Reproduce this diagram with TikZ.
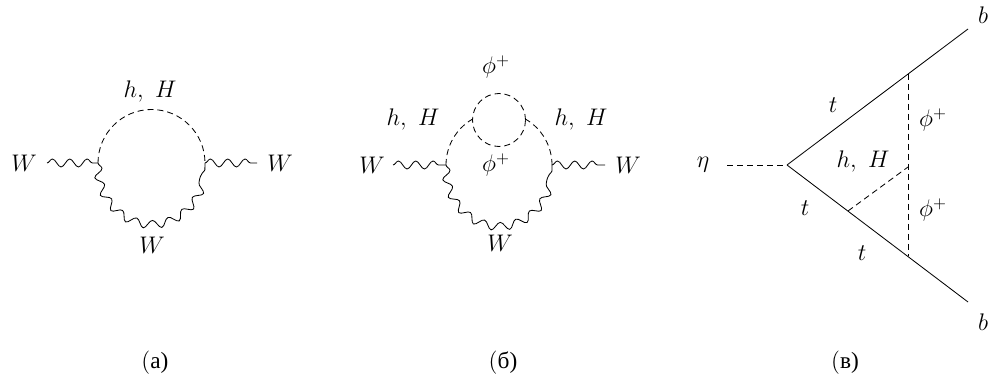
\documentclass[tikz,border=0pt]{standalone}
\usepackage{fontspec}
\newfontfamily\cyrfont{Liberation Serif}
\usetikzlibrary{decorations.pathmorphing,calc}
\tikzset{
  scalar/.style={dash pattern=on 3.6pt off 2.4pt, line width=0.5pt},
  fermion/.style={line width=0.5pt},
  boson/.style={line width=0.5pt, decorate, decoration={snake, amplitude=2.4pt, segment length=10.4pt}},
  lbl/.style={inner sep=1pt, font=\fontsize{14}{16}\selectfont},
  captxt/.style={inner sep=1pt, font=\fontsize{14}{16}\selectfont}
}
\begin{document}
\begin{tikzpicture}[x=0.6pt, y=0.6pt]
\useasboundingbox (0,0) rectangle (997,388);
% ---------------- (a)
\coordinate (aL) at (98,225);
\coordinate (aR) at (205,225);
\coordinate (aLin) at (47,225);
\coordinate (aRout) at (257,225);
\node[lbl] (aWl) at (24,225) {$W$};
\node[lbl] (aWr) at (280,225) {$W$};
\node[lbl] (ahH) at (150,296) {$h,\ H$};
\node[lbl] (aWb) at (152,143) {$W$};
\draw[boson] (aLin) -- (aL);
\draw[boson] (aR) -- (aRout);
\draw[scalar] (aL) arc[start angle=180, end angle=0, radius=53.5];
\draw[boson] (aL) arc[start angle=180, end angle=360, x radius=53.5, y radius=57];
\node[captxt] (capa) at (155,25) {(\cyrfont а)};
% ---------------- (b)
\coordinate (bL) at (446,223);
\coordinate (bR) at (552,223);
\coordinate (bLin) at (393,223);
\coordinate (bRout) at (605,223);
\coordinate (bC) at (499,268);
\node[lbl] (bWl) at (372,223) {$W$};
\node[lbl] (bWr) at (628,223) {$W$};
\node[lbl] (bphiT) at (496,321) {$\phi^+$};
\node[lbl] (bphiI) at (496,223) {$\phi^+$};
\node[lbl] (bhHl) at (413,268) {$h,\ H$};
\node[lbl] (bhHr) at (581,268) {$h,\ H$};
\node[lbl] (bWb) at (500,145) {$W$};
\draw[boson] (bLin) -- (bL);
\draw[boson] (bR) -- (bRout);
\draw[scalar] (bL) arc[start angle=180, end angle=120.6, radius=53];
\draw[scalar] (bR) arc[start angle=0, end angle=59.4, radius=53];
\draw[scalar] (bC) circle[radius=26.5];
\draw[boson] (bL) arc[start angle=180, end angle=360, x radius=53, y radius=57];
\node[captxt] (capb) at (503,25) {(\cyrfont б)};
% ---------------- (c)
\coordinate (cV) at (787,223);
\coordinate (cEta) at (727,223);
\coordinate (cTop) at (968,359);
\coordinate (cBot) at (968,86);
\coordinate (cU) at (908,314);
\coordinate (cD) at (908,132);
\coordinate (cM) at (908,221);
\coordinate (cQ) at (848,177);
\node[lbl] (eta) at (703,223) {$\eta$};
\node[lbl] (bT) at (983,373) {$b$};
\node[lbl] (bB) at (983,66) {$b$};
\node[lbl] (tU) at (833,283) {$t$};
\node[lbl] (tL) at (805,180) {$t$};
\node[lbl] (tB) at (862,135) {$t$};
\node[lbl] (phiU) at (933,268) {$\phi^+$};
\node[lbl] (phiL) at (933,178) {$\phi^+$};
\node[lbl] (chH) at (863,226) {$h,\ H$};
\draw[scalar] (cEta) -- (cV);
\draw[fermion] (cV) -- (cTop);
\draw[fermion] (cV) -- (cBot);
\draw[scalar] (cU) -- (cD);
\draw[scalar] (cQ) -- (cM);
\node[captxt] (capc) at (845,25) {(\cyrfont в)};
\end{tikzpicture}
\end{document}
